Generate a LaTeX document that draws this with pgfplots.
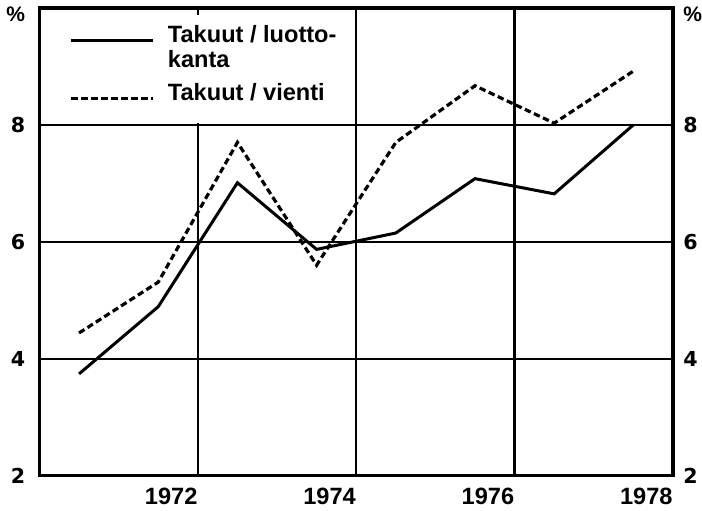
\documentclass[border=0pt]{standalone}
\usepackage{fontspec}
\setmainfont{Liberation Sans}
\newfontfamily\dejavu{DejaVu Sans}
\usepackage{pgfplots}
\pgfplotsset{compat=1.18}
\begin{document}
\begin{tikzpicture}
\begin{axis}[
  name=ax,
  scale only axis,
  width=317pt, height=234pt,
  xmin=1970.5, xmax=1978.5,
  ymin=2, ymax=10,
  xtick={1972.5,1974.5,1976.5,1978.5},
  xticklabels={1972,1974,1976,1978},
  ytick={2,4,6,8},
  grid=major,
  major grid style={black, line width=1.1pt},
  axis line style={line width=1.8pt},
  major tick length=0pt,
  /pgf/number format/assume math mode=true,
  xticklabel style={font=\bfseries\fontsize{11.8}{12}\selectfont, anchor=north east, inner sep=0pt, yshift=-6pt},
  yticklabel style={font=\dejavu\bfseries\fontsize{10.3}{11}\selectfont, anchor=east, inner sep=0pt, xshift=-7pt},
  legend style={draw=none, fill=white, at={(rel axis cs:0,1)}, anchor=north west,
    xshift=13pt, yshift=-3.5pt, inner xsep=2pt, inner ysep=4.5pt,
    font=\bfseries\fontsize{11.8}{12}\selectfont, row sep=0pt, column sep=0pt,
    nodes={inner sep=0pt, text height=9pt, text depth=3.5pt},
    cells={anchor=base west},
    /tikz/every odd column/.append style={column sep=6.5pt}},
  legend image code/.code={\draw[#1] (0pt,0.8pt) -- (41pt,0.8pt);},
]
\addplot[black, line width=1.5pt] coordinates {(1971,3.74) (1972,4.89) (1973,7.01) (1974,5.87) (1975,6.15) (1976,7.08) (1977,6.82) (1978,8.0)};
\addlegendentry{Takuut / luotto-}
\addlegendimage{empty legend}
\addlegendentry[text depth=7.5pt]{kanta}
\addplot[black, line width=1.6pt, dash pattern=on 3.2pt off 1.8pt] coordinates {(1971,4.44) (1972,5.31) (1973,7.70) (1974,5.60) (1975,7.70) (1976,8.67) (1977,8.03) (1978,8.92)};
\addlegendentry[text depth=7pt]{Takuut / vienti}
\end{axis}
\begin{axis}[
  scale only axis,
  width=317pt, height=234pt,
  xmin=1970.5, xmax=1978.5,
  ymin=2, ymax=10,
  axis x line=none,
  axis y line*=right,
  y axis line style={draw=none},
  ytick={2,4,6,8},
  major tick length=0pt,
  /pgf/number format/assume math mode=true,
  yticklabel style={font=\dejavu\bfseries\fontsize{10.3}{11}\selectfont, anchor=west, inner sep=0pt, xshift=5pt},
]
\end{axis}
\node[font=\bfseries\fontsize{10.5}{11}\selectfont, anchor=north east, inner sep=0pt] at ([xshift=-7pt,yshift=0.5pt]ax.north west) {\%};
\node[font=\bfseries\fontsize{10.5}{11}\selectfont, anchor=north west, inner sep=0pt] at ([xshift=5pt,yshift=0.5pt]ax.north east) {\%};
\path ([shift={(-19.75pt,-17.5pt)}]ax.south west) rectangle ([shift={(14pt,4pt)}]ax.north east);
\end{tikzpicture}
\end{document}
